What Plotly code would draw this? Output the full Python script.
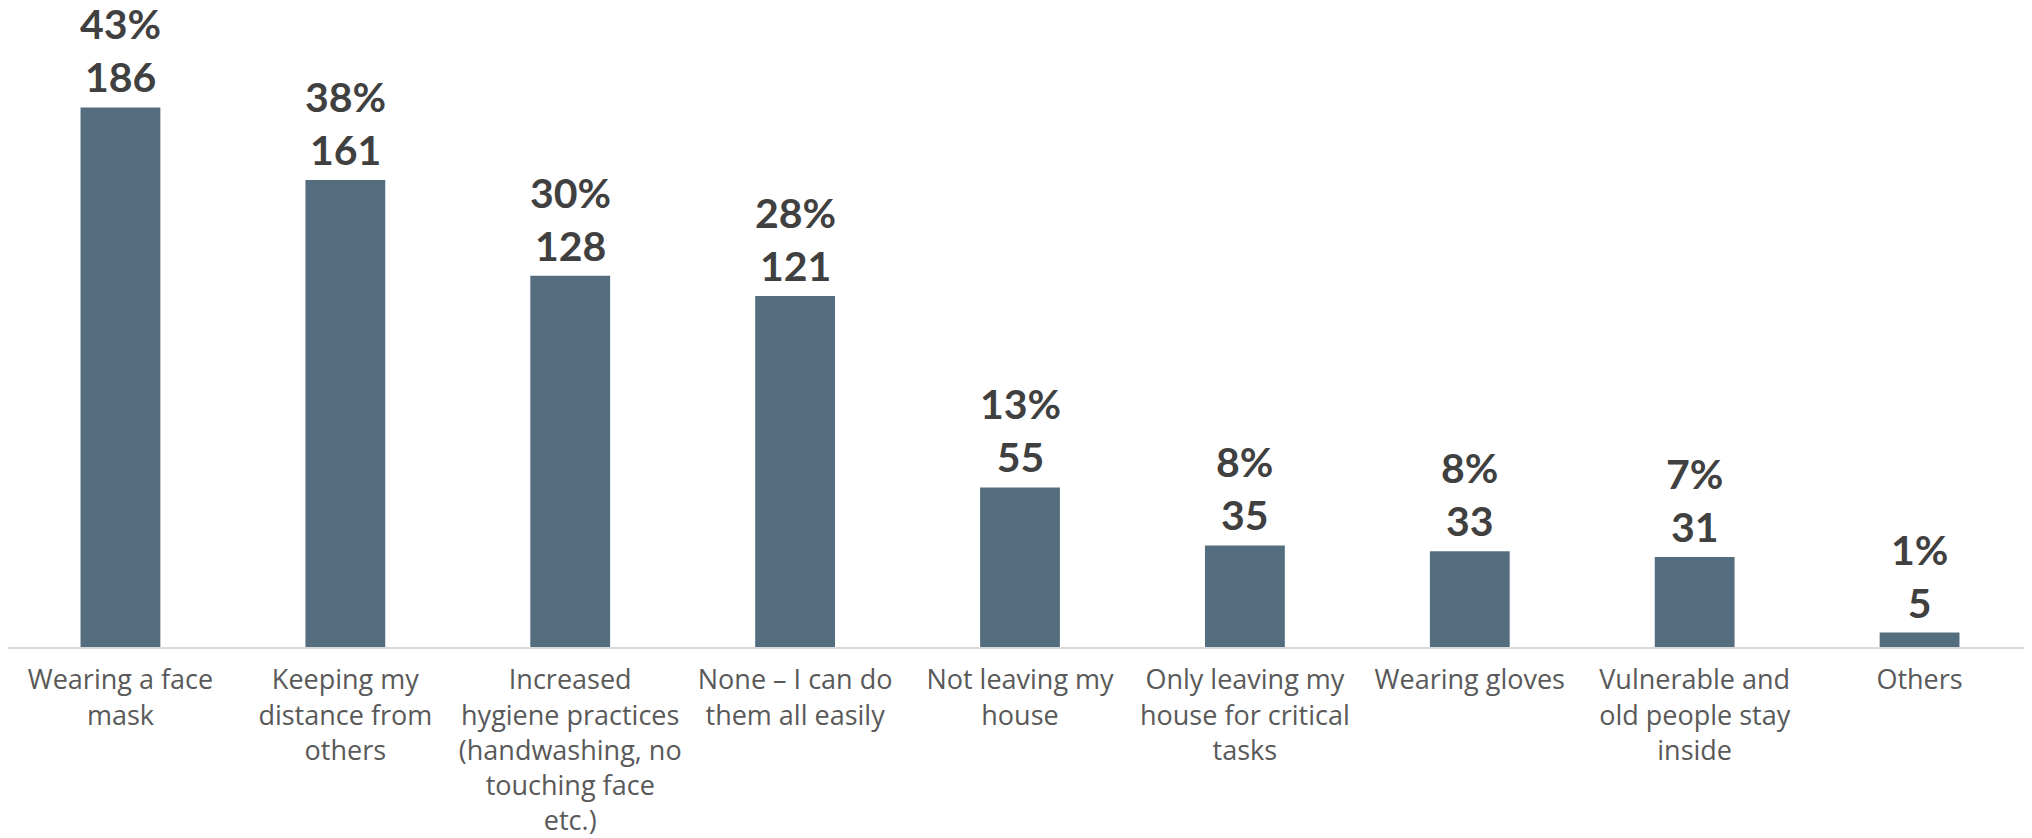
import plotly.graph_objects as go

categories = [
    "Wearing a face<br>mask",
    "Keeping my<br>distance from<br>others",
    "Increased<br>hygiene practices<br>(handwashing, no<br>touching face<br>etc.)",
    "None – I can do<br>them all easily",
    "Not leaving my<br>house",
    "Only leaving my<br>house for critical<br>tasks",
    "Wearing gloves",
    "Vulnerable and<br>old people stay<br>inside",
    "Others",
]
counts = [186, 161, 128, 121, 55, 35, 33, 31, 5]
percents = [43, 38, 30, 28, 13, 8, 8, 7, 1]

BAR_COLOR = "#546E7F"
LABEL_COLOR = "#404040"
TICK_COLOR = "#595959"
LABEL_FONT = "Lato, 'Open Sans', sans-serif"
TICK_FONT = "'Open Sans', Lato, sans-serif"

fig = go.Figure()
fig.add_trace(go.Bar(
    x=categories,
    y=counts,
    marker=dict(color=BAR_COLOR, line=dict(width=0)),
    hoverinfo="skip",
))

for cat, c, p in zip(categories, counts, percents):
    fig.add_annotation(
        x=cat, y=c, xref="x", yref="y",
        text=f"<b>{p}%<br>{c}</b>",
        showarrow=False,
        yanchor="bottom",
        yshift=4,
        font=dict(family=LABEL_FONT, size=41, color=LABEL_COLOR),
        align="center",
    )

fig.update_layout(
    width=2024,
    height=830,
    margin=dict(l=0, r=0, t=0, b=191, autoexpand=False),
    paper_bgcolor="white",
    plot_bgcolor="white",
    bargap=0.645,
    showlegend=False,
    font=dict(family=TICK_FONT, color=TICK_COLOR),
)
fig.update_xaxes(
    showline=True,
    linecolor="#D9D9D9",
    linewidth=2,
    showgrid=False,
    ticks="",
    automargin=False,
    tickfont=dict(family=TICK_FONT, size=27, color=TICK_COLOR),
    ticklabelstandoff=8,
)
fig.update_yaxes(
    visible=False,
    automargin=False,
    range=[0, 220.3],
    showgrid=False,
    zeroline=False,
)

fig.write_html("out.html")
